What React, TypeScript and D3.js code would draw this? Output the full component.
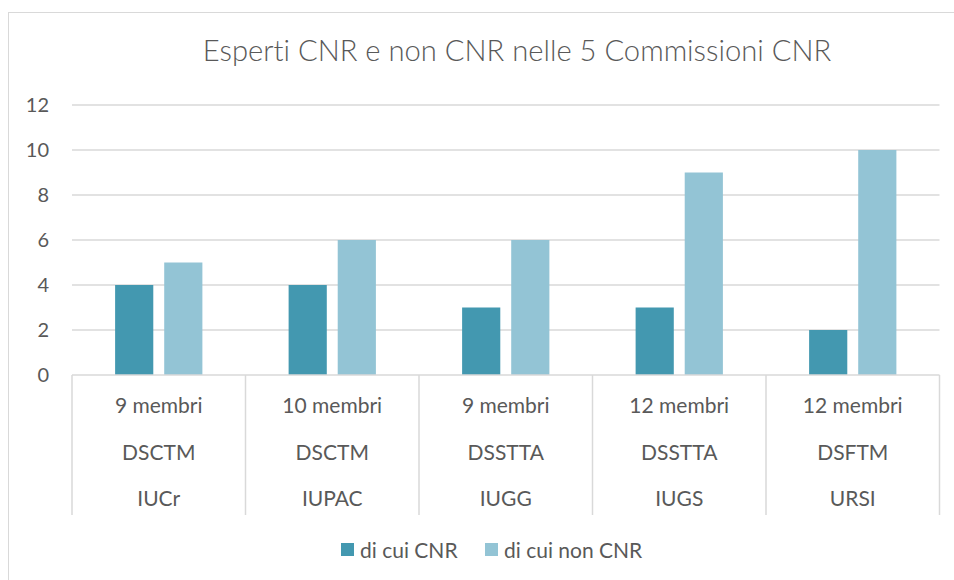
import React from "react";
import * as d3 from "d3";

const categories = ["IUCr", "IUPAC", "IUGG", "IUGS", "URSI"];
const divisions = ["DSCTM", "DSCTM", "DSSTTA", "DSSTTA", "DSFTM"];
const members = ["9 membri", "10 membri", "9 membri", "12 membri", "12 membri"];
const cnr = [4, 4, 3, 3, 2];
const nonCnr = [5, 6, 6, 9, 10];
const seriesNames = ["di cui CNR", "di cui non CNR"];
const yTicks = [0, 2, 4, 6, 8, 10, 12];
const title = "Esperti CNR e non CNR nelle 5 Commissioni CNR";

const colors = ["#4398B0", "#93C4D5"];
const textColor = "#595959";
const gridColor = "#D9D9D9";
const font = "Lato, 'Open Sans', sans-serif";

export default function App() {
  const W = 954, H = 580;
  const left = 72, right = 939.5, top = 105, bottom = 375;
  const x = d3.scaleBand<string>().domain(categories).range([left, right]).paddingInner(0).paddingOuter(0);
  const y = d3.scaleLinear().domain([0, 12]).range([bottom, top]);
  const bw = x.bandwidth();
  const barW = bw * 0.22;
  const gap = bw * 0.063;
  const series = [cnr, nonCnr];
  const noLig = { fontVariantLigatures: "none" as const, fontKerning: "normal" as const };

  return (
    <svg width={W} height={H} style={{ position: "absolute", left: 0, top: 0, ...noLig }}>
      <rect x={0} y={0} width={W} height={H} fill="#fff" />
      <rect x={8.5} y={12.5} width={W + 20} height={H + 20} fill="#fff" stroke={gridColor} strokeWidth={1} />
      <text x={517} y={61} textAnchor="middle" fontFamily={font} fontWeight={300} fontSize={29.2} fill={textColor} style={noLig}>
        {title}
      </text>
      {yTicks.map((t) => (
        <g key={t}>
          {t > 0 && (
            <line x1={left} x2={right} y1={y(t)} y2={y(t)} stroke={gridColor} strokeWidth={1.5} />
          )}
          <text x={49} y={y(t)} dy="0.36em" textAnchor="end" fontFamily={font} fontSize={20} fill={textColor}>
            {t}
          </text>
        </g>
      ))}
      {series.map((vals, si) =>
        categories.map((c, i) => {
          const cx = (x(c) as number) + bw / 2;
          const bx = si === 0 ? cx - gap / 2 - barW : cx + gap / 2;
          return (
            <rect key={si + "-" + c} x={bx} y={y(vals[i])} width={barW} height={y(0) - y(vals[i])} fill={colors[si]} />
          );
        })
      )}
      <line x1={left} x2={right} y1={bottom} y2={bottom} stroke={gridColor} strokeWidth={1.5} />
      {[...categories.map((c) => x(c) as number), right].map((px, i) => (
        <line key={i} x1={px} x2={px} y1={bottom} y2={515} stroke={gridColor} strokeWidth={1.5} />
      ))}
      {categories.map((c, i) => {
        const cx = (x(c) as number) + bw / 2;
        return (
          <g key={c} fontFamily={font} fontSize={21} fill={textColor} textAnchor="middle">
            <text x={cx} y={405} dy="0.36em">{members[i]}</text>
            <text x={cx} y={452} dy="0.36em">{divisions[i]}</text>
            <text x={cx} y={498} dy="0.36em">{c}</text>
          </g>
        );
      })}
      {seriesNames.map((s, i) => {
        const lx = i === 0 ? 341 : 485;
        return (
          <g key={s}>
            <rect x={lx} y={543} width={13} height={13} fill={colors[i]} />
            <text x={lx + 19} y={550} dy="0.36em" fontFamily={font} fontSize={21} fill={textColor}>
              {s}
            </text>
          </g>
        );
      })}
    </svg>
  );
}
